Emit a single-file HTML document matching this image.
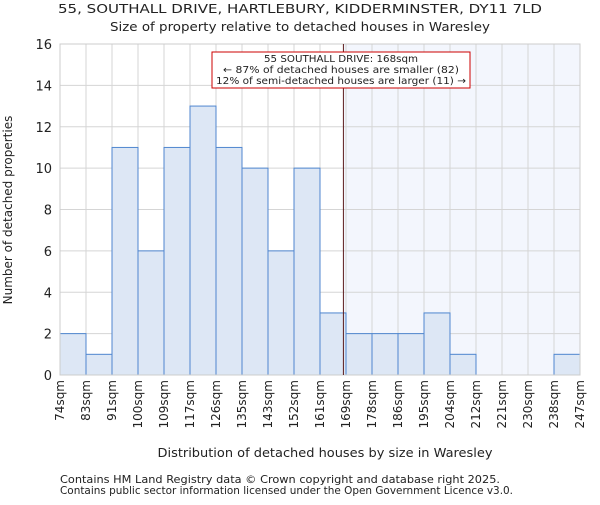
<!DOCTYPE html>
<html><head><meta charset="utf-8"><style>body{margin:0;background:#fff}svg text{font-family:"DejaVu Sans","Liberation Sans",sans-serif;fill:#222}</style></head>
<body>
<svg id="chart" width="600" height="500" xmlns="http://www.w3.org/2000/svg">
<text x="300" y="13" text-anchor="middle" font-size="12.5" textLength="484" lengthAdjust="spacingAndGlyphs">55, SOUTHALL DRIVE, HARTLEBURY, KIDDERMINSTER, DY11 7LD</text>
<text x="300" y="31" text-anchor="middle" font-size="12.5" textLength="380" lengthAdjust="spacingAndGlyphs">Size of property relative to detached houses in Waresley</text>
<g id="plot"></g>
<text x="325" y="457" text-anchor="middle" font-size="12.5" textLength="335" lengthAdjust="spacingAndGlyphs">Distribution of detached houses by size in Waresley</text>
<text transform="translate(12,210) rotate(-90)" text-anchor="middle" font-size="12">Number of detached properties</text>
<text x="60" y="483" font-size="10.5" textLength="440" lengthAdjust="spacingAndGlyphs">Contains HM Land Registry data © Crown copyright and database right 2025.</text>
<text x="60" y="494" font-size="10.5" textLength="453" lengthAdjust="spacingAndGlyphs">Contains public sector information licensed under the Open Government Licence v3.0.</text>
</svg>
<script>
const binLabels=["74sqm","83sqm","91sqm","100sqm","109sqm","117sqm","126sqm","135sqm","143sqm","152sqm","161sqm","169sqm","178sqm","186sqm","195sqm","204sqm","212sqm","221sqm","230sqm","238sqm","247sqm"];
const counts=[2,1,11,6,11,13,11,10,6,10,3,2,2,2,3,1,0,0,0,1];
const yTicks=[0,2,4,6,8,10,12,14,16];
const propertyBin=10.9;
const NS="http://www.w3.org/2000/svg";
const g=document.getElementById('plot');
const L=60,R=580,T=44,B=375,yMax=16;
const bw=(R-L)/counts.length;
const x=i=>L+i*bw, y=v=>B-(v/yMax)*(B-T);
function mk(t,a){const e=document.createElementNS(NS,t);for(const k in a)e.setAttribute(k,a[k]);g.appendChild(e);return e;}
const px=x(propertyBin);
let e=mk('rect',{x:px,y:T,width:R-px,height:B-T,fill:'#f3f6fd'});


for(let i=0;i<=counts.length;i++){e=mk('line',{x1:x(i),x2:x(i),y1:T,y2:B,stroke:'#d5d5d5'});

}
yTicks.forEach(t=>{e=mk('line',{x1:L,x2:R,y1:y(t),y2:y(t),stroke:'#d5d5d5'});


e=mk('text',{x:L-8,y:y(t)+5,'text-anchor':'end','font-size':'13'});e.textContent=t;

});
counts.forEach((v,i)=>{if(v<=0)return;e=mk('rect',{x:x(i),y:y(v),width:bw,height:B-y(v),fill:'#dde7f5',stroke:'#4f86cf','stroke-width':1});

});
binLabels.forEach((l,i)=>{e=mk('text',{transform:`translate(${x(i)+4},380) rotate(-90)`,'text-anchor':'end','font-size':'12'});e.textContent=l;

});
e=mk('rect',{x:L,y:T,width:R-L,height:B-T,fill:'none',stroke:'#ccc'});


e=mk('line',{x1:px,x2:px,y1:T,y2:B,stroke:'#5a1a1a','stroke-width':1});


e=mk('rect',{x:212,y:52,width:258,height:36,fill:'#fff',stroke:'#c00','stroke-width':1});


const ann=["55 SOUTHALL DRIVE: 168sqm","← 87% of detached houses are smaller (82)","12% of semi-detached houses are larger (11) →"];
const annW=[154,236,250];
ann.forEach((s,k)=>{e=mk('text',{x:341,y:62+k*11,'text-anchor':'middle','font-size':'10',textLength:annW[k],lengthAdjust:'spacingAndGlyphs'});e.textContent=s;

});
</script>
</body></html>
